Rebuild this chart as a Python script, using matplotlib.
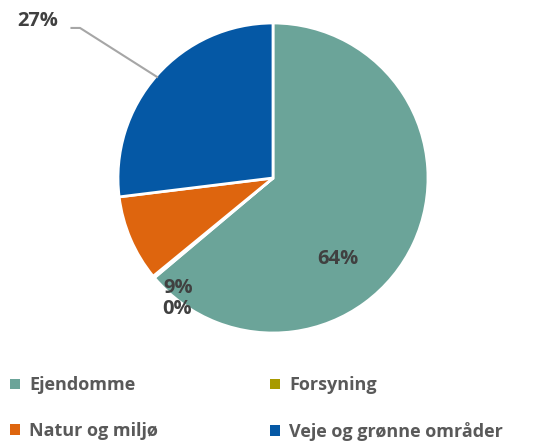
import matplotlib
matplotlib.use("Agg")
import matplotlib.pyplot as plt
from matplotlib.patches import Patch

categories = ["Ejendomme", "Forsyning", "Natur og miljø", "Veje og grønne områder"]
values = [64, 0.2, 9, 27]
labels = ["64%", "0%", "9%", "27%"]
colors = ["#6BA499", "#A89A00", "#DE650E", "#0558A5"]

W, H = 555, 442
fig = plt.figure(figsize=(W / 100, H / 100), dpi=100)
cx, cy, r = 273, 178, 155
ax = fig.add_axes([(cx - r) / W, (H - cy - r) / H, 2 * r / W, 2 * r / H])
ax.pie(values, colors=colors, startangle=90, counterclock=False,
       wedgeprops=dict(edgecolor="white", linewidth=2))
ax.set_xlim(-1, 1)
ax.set_ylim(-1, 1)
ax.set_aspect("equal")
ax.axis("off")

fam = ["Open Sans", "DejaVu Sans"]
font = dict(family=fam, fontsize=14.5, fontweight="bold", color="#404040")
pos = {"64%": (0.42, -0.52), "0%": (-0.62, -0.845), "9%": (-0.61, -0.71), "27%": (-1.52, 1.01)}
for lab in labels:
    x, y = pos[lab]
    ax.text(x, y, lab, ha="center", va="center", **font)

ax.plot([-1.30, -1.245, -0.748], [0.968, 0.968, 0.652], color="#A6A6A6", lw=1.5,
        clip_on=False)

order = [0, 2, 1, 3]
handles = [Patch(facecolor=colors[i], edgecolor="none") for i in order]
leg = fig.legend(handles, [categories[i] for i in order], ncol=2, loc="upper left",
                 bbox_to_anchor=(-4 / W, 1 - 362 / H), frameon=False,
                 prop=dict(family=fam, size=13, weight="bold"),
                 handlelength=0.55, handleheight=0.55, handletextpad=0.5,
                 labelspacing=1.5, columnspacing=6.2, borderpad=0.3)
for t in leg.get_texts():
    t.set_color("#595959")

fig.savefig("out.png", dpi=100)
